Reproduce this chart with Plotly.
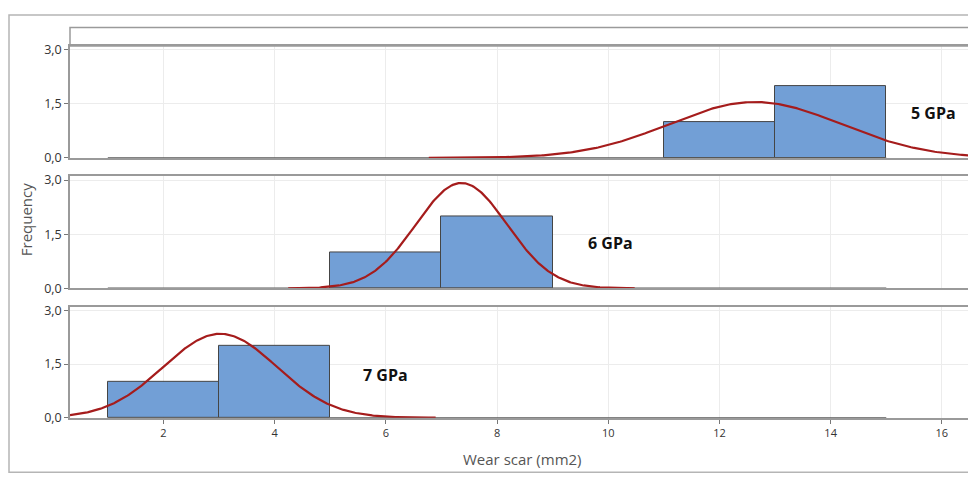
import numpy as np
import plotly.graph_objects as go

W, H = 976, 481
OFF = 8  # page body margin offset of the rendered figure

# ---- data ----
panels = ["5 GPa", "6 GPa", "7 GPa"]
bin_edges = [1, 3, 5, 7, 9, 11, 13, 15]
bar_left_5 = [11, 13]
bar_freq_5 = [1, 2]
bar_left_6 = [5, 7]
bar_freq_6 = [1, 2]
bar_left_7 = [1, 3]
bar_freq_7 = [1, 2]
bin_width = 2
fit_mean = [12.64, 7.36, 3.02]
fit_sd = [1.544, 0.82, 1.02]
n_obs = [3, 3, 3]
x_ticks = [2, 4, 6, 8, 10, 12, 14, 16]
y_ticks = [0.0, 1.5, 3.0]
y_tick_labels = ["0,0", "1,5", "3,0"]

bars = [(bar_left_5, bar_freq_5), (bar_left_6, bar_freq_6), (bar_left_7, bar_freq_7)]

def py(px):
    return 1 - (px - OFF) / H

def pxx(px):
    return (px - OFF) / W

# panel vertical pixel extents (top, bottom) in reference pixels
panel_px = [(42, 157), (176, 291), (310, 424)]
x_left_px, x_right_px = 70, 973
x_range = [0.32, 16.56]
y_range = [0, 3.1]

fig = go.Figure()

BAR_FILL = "#729fd6"
BAR_LINE = "#454545"
CURVE = "#a51c1c"
BORDER = "#9a9a9a"
GRID = "#ececec"

for i, name in enumerate(panels):
    k = "" if i == 0 else str(i + 1)
    xa, ya = "x" + k, "y" + k
    left, freq = bars[i]
    centers = [l + bin_width / 2 for l in left]
    # zero baseline of the histogram bins
    fig.add_trace(go.Scatter(x=[min(bin_edges), max(bin_edges)], y=[0, 0], mode="lines",
                             line=dict(color="#5a5a5a", width=1.5), xaxis=xa, yaxis=ya,
                             showlegend=False, hoverinfo="skip"))
    fig.add_trace(go.Bar(x=centers, y=freq, width=[bin_width] * len(freq),
                         marker=dict(color=BAR_FILL, line=dict(color=BAR_LINE, width=1)),
                         xaxis=xa, yaxis=ya, showlegend=False))
    m, s = fit_mean[i], fit_sd[i]
    xs = np.linspace(max(x_range[0], m - 3.8 * s), min(x_range[1], m + 3.8 * s), 300)
    ys = n_obs[i] * bin_width / (s * np.sqrt(2 * np.pi)) * np.exp(-0.5 * ((xs - m) / s) ** 2)
    fig.add_trace(go.Scatter(x=xs, y=ys, mode="lines", line=dict(color=CURVE, width=2.2),
                             xaxis=xa, yaxis=ya, showlegend=False, hoverinfo="skip"))

layout = dict(
    width=W, height=H, margin=dict(l=0, r=0, t=0, b=0),
    paper_bgcolor="white", plot_bgcolor="white", bargap=0,
    font=dict(family="Open Sans, Noto Sans, sans-serif", color="#3a3a3a"),
)
for i in range(3):
    k = "" if i == 0 else str(i + 1)
    top, bot = panel_px[i]
    layout["xaxis" + k] = dict(
        domain=[pxx(x_left_px), pxx(x_right_px)], range=x_range, anchor="y" + k,
        tickvals=x_ticks, showgrid=True, gridcolor=GRID, gridwidth=1,
        showline=True, linecolor=BORDER, linewidth=1.5, mirror=True, zeroline=False,
        showticklabels=(i == 2), ticks="outside" if i == 2 else "", ticklen=4,
        tickcolor="#777", tickfont=dict(size=11, color="#333"),
    )
    layout["yaxis" + k] = dict(
        domain=[py(bot), py(top)], range=y_range, anchor="x" + k,
        tickvals=y_ticks, ticktext=y_tick_labels, showgrid=True, gridcolor=GRID,
        showline=True, linecolor=BORDER, linewidth=1.5, mirror=True, zeroline=False,
        ticks="outside", ticklen=4, tickcolor="#777",
        tickfont=dict(size=12.5, color="#333"),
    )
fig.update_layout(**layout)

# outer frame and top (empty) strip
fig.add_shape(type="rect", xref="paper", yref="paper",
              x0=pxx(9), x1=pxx(1000), y0=py(480), y1=py(10),
              line=dict(color="#b5b5b5", width=1.5), fillcolor="rgba(0,0,0,0)")
fig.add_shape(type="rect", xref="paper", yref="paper",
              x0=pxx(x_left_px), x1=pxx(x_right_px), y0=py(42), y1=py(23),
              line=dict(color=BORDER, width=1.5), fillcolor="rgba(0,0,0,0)")

# panel labels
label_pos = [(933, 111), (610, 244), (385, 380)]
for name, (lx, ly) in zip(panels, label_pos):
    fig.add_annotation(text="<b>" + name + "</b>", x=pxx(lx), y=py(ly), xref="paper", yref="paper",
                       xanchor="center", yanchor="middle", showarrow=False,
                       font=dict(size=16, color="#111", family="Open Sans, sans-serif"))

fig.add_annotation(text="Frequency", x=pxx(26), y=py(221), xref="paper", yref="paper",
                   xanchor="center", yanchor="middle",
                   showarrow=False, textangle=-90, font=dict(size=15, color="#555"))
fig.add_annotation(text="Wear scar (mm2)", x=pxx(522), y=py(466), xref="paper", yref="paper",
                   xanchor="center", yanchor="middle",
                   showarrow=False, font=dict(size=15, color="#555"))

fig.write_html("out.html")
